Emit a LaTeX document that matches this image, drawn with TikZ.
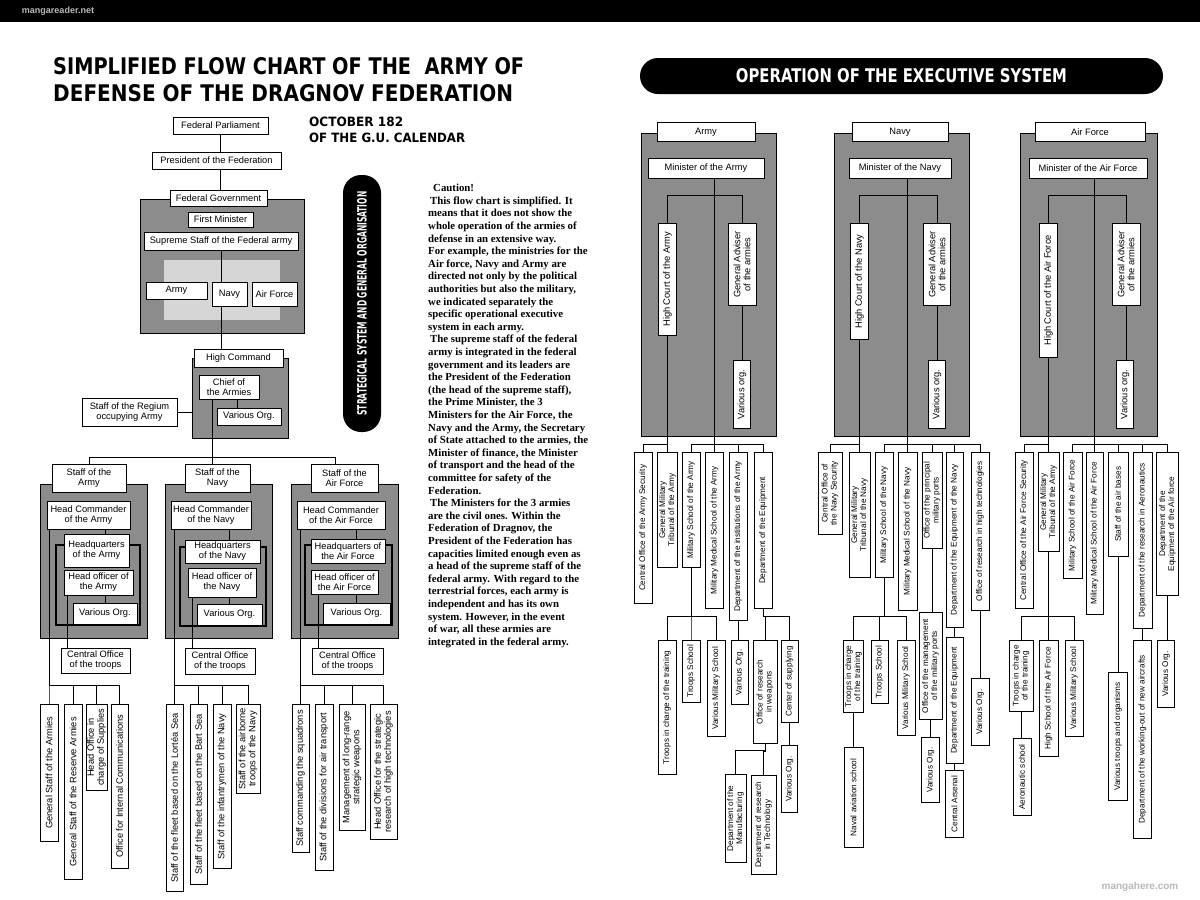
\documentclass[tikz,border=0pt]{standalone}
\usepackage{fontspec}
\newfontfamily\boxfont{Liberation Sans}
\newfontfamily\notefont{Liberation Serif}
\newfontfamily\titlefont{DejaVu Sans}
\newcommand\leftboxfont{\boxfont\fontsize{9.3}{10}\selectfont}
\newcommand\rightboxfont{\boxfont\fontsize{8.2}{8.9}\selectfont}
\newcommand\cautionfont{\notefont\bfseries\fontsize{10.8}{12.6}\selectfont}
\definecolor{panelgray}{gray}{0.55}
\definecolor{lightpanel}{gray}{0.84}
\pgfdeclarelayer{bg}
\pgfdeclarelayer{mid}
\pgfsetlayers{bg,mid,main}

\begin{document}
\begin{tikzpicture}[x=1pt, y=1pt,
    box/.style={draw, fill=white, line width=0.8pt, inner sep=1pt, align=center, font=\leftboxfont},
    vb/.style={box, rotate=90, anchor=east}, % senkrechte Kästen, oben verankert
    rbox/.style={box, font=\rightboxfont},
    rvb/.style={rbox, rotate=90, anchor=east},
    panel/.style={draw, line width=1.3pt, fill=panelgray, anchor=north west, inner sep=0pt},
    wire/.style={line width=1pt},
    outline/.style={line width=1.5pt}, % schwarzer Rahmen hinter den Kästen
    pill/.style={fill=black, rounded corners=18pt, inner sep=0pt, text=white}
]

\begin{pgfonlayer}{bg}
\fill[white] (0,0) rectangle (1200,-900);
\fill[black] (0,0) rectangle (1200,-22);
\node[panel, minimum width=164, minimum height=134] (fgPanel) at (140,-199) {};
\fill[lightpanel] (164,-260) rectangle (280,-320);
\node[panel, minimum width=96, minimum height=80] (hcPanel) at (192,-358) {};
\node[panel, minimum width=107, minimum height=154] (panelA) at (40,-484) {};
\node[panel, minimum width=107, minimum height=154] (panelN) at (165,-484) {};
\node[panel, minimum width=107, minimum height=154] (panelF) at (291,-484) {};
\node[panel, minimum width=135, minimum height=303] (panelArmy) at (641,-133) {};
\node[panel, minimum width=135, minimum height=303] (panelNavy) at (834,-133) {};
\node[panel, minimum width=137, minimum height=303] (panelAir) at (1020,-133) {};
\end{pgfonlayer}

% Titel
\node[anchor=west, inner sep=0pt] (titleA) at (53,-66) {\resizebox{471pt}{17pt}{\titlefont\bfseries SIMPLIFIED FLOW CHART OF THE\hspace{0.7em}ARMY OF}};
\node[anchor=west, inner sep=0pt] (titleB) at (53,-93) {\resizebox{460pt}{17pt}{\titlefont\bfseries DEFENSE OF THE DRAGNOV FEDERATION}};
\node[anchor=west, inner sep=0pt] (dateA) at (309,-122) {\resizebox{94pt}{9.5pt}{\titlefont\bfseries OCTOBER 182}};
\node[anchor=west, inner sep=0pt] (dateB) at (309,-138) {\resizebox{156pt}{9.5pt}{\titlefont\bfseries OF THE G.U. CALENDAR}};
\node[pill, rotate=90, minimum width=257, minimum height=38] (stratPill) at (362,-303.5) {\resizebox{224pt}{9.5pt}{\titlefont\bfseries STRATEGICAL SYSTEM AND GENERAL ORGANISATION}};
\node[pill, minimum width=523, minimum height=36] (opPill) at (901.5,-76) {\resizebox{331pt}{14pt}{\titlefont\bfseries OPERATION OF THE EXECUTIVE SYSTEM}};
\node[font=\boxfont\bfseries\fontsize{9}{10}\selectfont, text=gray!55, inner sep=0pt] (wmA) at (58,-11) {mangareader.net};
\node[font=\boxfont\bfseries\fontsize{10}{11}\selectfont, text=gray!55, inner sep=0pt] (wmB) at (1140,-887) {mangahere.com};

% oberer Teil links
\node[box, minimum width=95, minimum height=17] (parl) at (220.5,-125.5) {Federal Parliament};
\node[box, minimum width=129, minimum height=17] (pres) at (216.5,-160.5) {President of the Federation};
\node[box, minimum width=97, minimum height=16] (fedgov) at (218.5,-198) {Federal Government};
\node[box, minimum width=65, minimum height=15] (firstmin) at (220.5,-219.5) {First Minister};
\node[box, minimum width=154, minimum height=18] (supreme) at (221,-241) {Supreme Staff of the Federal army};
\node[box, minimum width=61, minimum height=17] (armyS) at (176.5,-290.5) {Army};
\node[box, minimum width=35, minimum height=24] (navyS) at (229.5,-294) {Navy};
\node[box, minimum width=45, minimum height=24] (afS) at (274.5,-294) {Air Force};
\node[box, minimum width=89, minimum height=18] (highcmd) at (238.5,-358) {High Command};
\node[box, minimum width=60, minimum height=24] (chief) at (229,-387) {Chief of\\the Armies};
\node[box, minimum width=64, minimum height=17] (variousHC) at (249,-416.5) {Various Org.};
\node[box, minimum width=95, minimum height=28] (regium) at (129.5,-412) {Staff of the Regium\\occupying Army};

\node[box, minimum width=74, minimum height=28] (sArmy) at (89,-478) {Staff of the\\Army};
\node[box, minimum width=65, minimum height=28] (sNavy) at (217.5,-478) {Staff of the\\Navy};
\node[box, minimum width=67, minimum height=28] (sAF) at (344.5,-478) {Staff of the\\Air Force};

\node[box, minimum width=83, minimum height=28] (cmdA) at (88.5,-515) {Head Commander\\of the Army};
\node[box, minimum width=80, minimum height=28] (cmdN) at (211,-515) {Head Commander\\of the Navy};
\node[box, minimum width=88, minimum height=28] (cmdF) at (341,-515) {Head Commander\\of the Air Force};
\node[box, minimum width=65, minimum height=33] (hqA) at (96.5,-550.5) {Headquarters\\of the Army};
\node[box, minimum width=75, minimum height=23] (hqN) at (222.5,-551.5) {Headquarters\\of the Navy};
\node[box, minimum width=74, minimum height=24] (hqF) at (348,-551) {Headquarters of\\the Air Force};
\node[box, minimum width=69, minimum height=25] (offA) at (98.5,-582.5) {Head officer of\\the Army};
\node[box, minimum width=68, minimum height=29] (offN) at (222,-582.5) {Head officer of\\the Navy};
\node[box, minimum width=67, minimum height=24] (offF) at (344.5,-582) {Head officer of\\the Air Force};
\node[box, minimum width=64, minimum height=21] (orgA) at (105,-613.5) {Various Org.};
\node[box, minimum width=65, minimum height=21] (orgN) at (229.5,-614.5) {Various Org.};
\node[box, minimum width=67, minimum height=21] (orgF) at (356.5,-613.5) {Various Org.};
\node[box, minimum width=69, minimum height=25] (troopsA) at (95.5,-660.5) {Central Office\\of the troops};
\node[box, minimum width=70, minimum height=26] (troopsN) at (220,-661) {Central Office\\of the troops};
\node[box, minimum width=71, minimum height=26] (troopsF) at (347.5,-661) {Central Office\\of the troops};

\node[vb, minimum width=137, minimum height=18] (subA1) at (49,-704) {General Staff of the Armies};
\node[vb, minimum width=175, minimum height=18] (subA2) at (73,-704) {General Staff of the Reserve Armies};
\node[vb, minimum width=86, minimum height=21] (subA3) at (96.5,-704) {Head Office in\\charge of Supplies};
\node[vb, minimum width=164, minimum height=17] (subA4) at (119.5,-704) {Office for Internal Communications};
\node[vb, minimum width=187, minimum height=17] (subN1) at (174.5,-704) {Staff of the fleet based on the Lortéa Sea};
\node[vb, minimum width=180, minimum height=17] (subN2) at (198.5,-704) {Staff of the fleet based on the Bart Sea};
\node[vb, minimum width=164, minimum height=18] (subN3) at (222,-704) {Staff of the infantrymen of the Navy};
\node[vb, minimum width=89, minimum height=24] (subN4) at (248,-704) {Staff of the airborne\\troops of the Navy};
\node[vb, minimum width=148, minimum height=17] (subF1) at (300.5,-704) {Staff commanding the squadrons};
\node[vb, minimum width=166, minimum height=18] (subF2) at (324,-704) {Staff of the divisions for air transport};
\node[vb, minimum width=126, minimum height=26] (subF3) at (352,-704) {Management of long-range\\strategic weapons};
\node[vb, minimum width=135, minimum height=27] (subF4) at (383.5,-704) {Head Office for the strategic\\research of high technologies};

\node[anchor=north west, align=left, inner sep=0pt, font=\cautionfont] (caution) at (428,-184) {%
\hspace*{5pt}Caution!\\
\hspace*{2pt}This flow chart is simplified. It\\
means that it does not show the\\
whole operation of the armies of\\
defense in an extensive way.\\
For example, the ministries for the\\
Air force, Navy and Army are\\
directed not only by the political\\
authorities but also the military,\\
we indicated separately the\\
specific operational executive\\
system in each army.\\
\hspace*{2pt}The supreme staff of the federal\\
army is integrated in the federal\\
government and its leaders are\\
the President of the Federation\\
(the head of the supreme staff),\\
the Prime Minister, the 3\\
Ministers for the Air Force, the\\
Navy and the Army, the Secretary\\
of State attached to the armies, the\\
Minister of finance, the Minister\\
of transport and the head of the\\
committee for safety of the\\
Federation.\\
\hspace*{2pt}The Ministers for the 3 armies\\
are the civil ones. Within the\\
Federation of Dragnov, the\\
President of the Federation has\\
capacities limited enough even as\\
a head of the supreme staff of the\\
federal army. With regard to the\\
terrestrial forces, each army is\\
independent and has its own\\
system. However, in the event\\
of war, all these armies are\\
integrated in the federal army.};

% rechte Seite, oben
\node[box, minimum width=98, minimum height=19] (hdrArmy) at (706,-132) {Army};
\node[box, minimum width=96, minimum height=19] (hdrNavy) at (900,-132) {Navy};
\node[box, minimum width=110, minimum height=19] (hdrAir) at (1090,-132) {Air Force};
\node[box, minimum width=116, minimum height=20] (minArmy) at (706,-168) {Minister of the Army};
\node[box, minimum width=102, minimum height=20] (minNavy) at (900,-168) {Minister of the Navy};
\node[box, minimum width=118, minimum height=20] (minAir) at (1088,-168) {Minister of the Air Force};

\node[vb, minimum width=112, minimum height=18] (courtArmy) at (667.5,-223) {High Court of the Army};
\node[vb, minimum width=82, minimum height=28] (advArmy) at (742,-223) {General Adviser\\of the armies};
\node[vb, minimum width=68, minimum height=17] (vorgArmy) at (742,-360) {Various org.};
\node[vb, minimum width=116, minimum height=18] (courtNavy) at (859.5,-223) {High Court of the Navy};
\node[vb, minimum width=82, minimum height=27] (advNavy) at (937,-223) {General Adviser\\of the armies};
\node[vb, minimum width=68, minimum height=17] (vorgNavy) at (937,-360) {Various org.};
\node[vb, minimum width=134, minimum height=18] (courtAir) at (1048.5,-223) {High Court of the Air Force};
\node[vb, minimum width=82, minimum height=28] (advAir) at (1126,-223) {General Adviser\\of the armies};
\node[vb, minimum width=68, minimum height=17] (vorgAir) at (1125,-360) {Various org.};

% rechte Seite, Armee
\node[rvb, minimum width=151, minimum height=18] (secArmy) at (643,-452) {Central Office of the Army Security};
\node[rvb, minimum width=115, minimum height=20] (tribArmy) at (667.5,-452) {General Military\\Tribunal of the Army};
\node[rvb, minimum width=115, minimum height=18] (schArmy) at (691,-452) {Military School of the Army};
\node[rvb, minimum width=156, minimum height=18] (medArmy) at (714.5,-452) {Military Medical School of the Army};
\node[rvb, minimum width=168, minimum height=18] (instArmy) at (738,-452) {Department of the institutions of the Army};
\node[rvb, minimum width=156, minimum height=18] (equipArmy) at (763,-452) {Department of the Equipment};
\node[rvb, minimum width=134, minimum height=18] (trainArmy) at (667,-640) {Troops in charge of the training};
\node[rvb, minimum width=62, minimum height=18] (tschArmy) at (691,-640) {Troops School};
\node[rvb, minimum width=96, minimum height=18] (vmsArmy) at (716,-640) {Various Military School};
\node[rvb, minimum width=64, minimum height=17] (orgArmy) at (739.5,-640) {Various Org.};
\node[rvb, minimum width=103, minimum height=24] (weapArmy) at (765,-640) {Office of research\\in weapons};
\node[rvb, minimum width=82, minimum height=17] (supplyArmy) at (789.5,-640) {Center of supplying};
\node[rvb, minimum width=88, minimum height=21] (manufArmy) at (735.5,-774) {Department of the\\Manufacturing};
\node[rvb, minimum width=99, minimum height=25] (techArmy) at (763.5,-775) {Department of research\\in Technology};
\node[rvb, minimum width=67, minimum height=16] (sorgArmy) at (789.5,-745) {Various Org.};

% rechte Seite, Marine
\node[rvb, minimum width=82, minimum height=24] (secNavy) at (830,-452) {Central Office of\\the Navy Security};
\node[rvb, minimum width=125, minimum height=21] (tribNavy) at (859.5,-452) {General Military\\Tribunal of the Navy};
\node[rvb, minimum width=125, minimum height=18] (schNavy) at (884,-452) {Military School of the Navy};
\node[rvb, minimum width=158, minimum height=19] (medNavy) at (907.5,-452) {Military Medical School of the Navy};
\node[rvb, minimum width=96, minimum height=20] (portsNavy) at (932,-452) {Office of the principal\\military ports};
\node[rvb, minimum width=175, minimum height=17] (equipNavy) at (954.5,-452) {Department of the Equipment of the Navy};
\node[rvb, minimum width=158, minimum height=18] (hitechNavy) at (980,-452) {Office of research in high technologies};
\node[rvb, minimum width=72, minimum height=20] (trainNavy) at (853.5,-640) {Troops in charge\\of the training};
\node[rvb, minimum width=63, minimum height=17] (tschNavy) at (879.5,-640) {Troops School};
\node[rvb, minimum width=95, minimum height=18] (vmsNavy) at (906,-640) {Various Military School};
\node[rvb, minimum width=100, minimum height=19] (avNavy) at (853.5,-747) {Naval aviation school};
\node[rvb, minimum width=107, minimum height=23] (mgmtNavy) at (930.5,-612) {Office of the management\\of the military ports};
\node[rvb, minimum width=65, minimum height=18] (orgNavy) at (930.5,-737) {Various Org.};
\node[rvb, minimum width=126, minimum height=17] (equip2Navy) at (954.5,-637) {Department of the Equipment};
\node[rvb, minimum width=67, minimum height=18] (arsNavy) at (954.5,-770) {Central Arsenal};
\node[rvb, minimum width=67, minimum height=18] (org2Navy) at (980,-678) {Various Org.};

% rechte Seite, Luftwaffe
\node[rvb, minimum width=156, minimum height=18] (secAir) at (1024,-452) {Central Office of the Air Force Security};
\node[rvb, minimum width=99, minimum height=21] (tribAir) at (1048.5,-452) {General Military\\Tribunal of the Army};
\node[rvb, minimum width=126, minimum height=19] (schAir) at (1072.5,-452) {Military School of the Air Force};
\node[rvb, minimum width=162, minimum height=17] (medAir) at (1094.5,-452) {Military Medical School of the Air Force};
\node[rvb, minimum width=104, minimum height=20] (basesAir) at (1118,-452) {Staff of the air bases};
\node[rvb, minimum width=176, minimum height=19] (aeroAir) at (1142.5,-452) {Department of the research in Aeronautics};
\node[rvb, minimum width=143, minimum height=22] (equipAir) at (1167.5,-452) {Department of the\\Equipment of the Air force};
\node[rvb, minimum width=71, minimum height=24] (trainAir) at (1021,-640) {Troops in charge\\of the training};
\node[rvb, minimum width=116, minimum height=19] (hschAir) at (1048.5,-640) {High School of the Air Force};
\node[rvb, minimum width=96, minimum height=18] (vmsAir) at (1074,-640) {Various Military School};
\node[rvb, minimum width=77, minimum height=18] (aeroschAir) at (1022,-738) {Aeronautic school};
\node[rvb, minimum width=128, minimum height=19] (troopsAir) at (1118,-672) {Various troops and organisms};
\node[rvb, minimum width=198, minimum height=18] (newAir) at (1142.5,-640) {Department of the working-out of new aircrafts};
\node[rvb, minimum width=67, minimum height=17] (orgAir) at (1166,-640) {Various Org.};

\begin{pgfonlayer}{mid}
% linke Seite
\draw[wire] (parl.south) -- (parl.south |- pres.north);
\draw[wire] (parl.south |- pres.south) -- (parl.south |- fedgov.north);
\draw[wire] (supreme.south) -- (supreme.south |- highcmd.north);
\coordinate (trunk) at (212,-457);
\coordinate (barR) at (335,-457);
\draw[wire] (trunk |- chief.south) -- (trunk |- sNavy.north);
\draw[wire] (sArmy.north) |- (barR) -- (barR |- sAF.north);
\draw[wire] ([xshift=8pt]chief.south) -- ([xshift=8pt]chief.south |- variousHC.north);
\draw[wire] (regium.east) -- (regium.east -| hcPanel.west);
\draw[outline] (56,-545) rectangle (140,-625);
\draw[outline] (180,-547) rectangle (266,-626);
\draw[outline] (305,-545) rectangle (392,-625);
\foreach \s in {A,N,F}{
  \draw[wire] (hq\s.north -| org\s.north) -- (cmd\s.south -| org\s.north);
  \draw[wire] (org\s.north) -- (org\s.north |- off\s.south);
  \foreach \c in {1,...,4}
    \draw[wire] (sub\s\c.east) -- ++(0,19) -| (cmd\s.south -| sub\s1.east);
}
\draw[wire] ([xshift=4pt]offA.south west) -- ([xshift=4pt]offA.south west |- troopsA.north);
\draw[wire] ([xshift=5pt]offN.south west) -- ([xshift=5pt]offN.south west |- troopsN.north);
\draw[wire] ([xshift=8pt]offF.south west) -- ([xshift=8pt]offF.south west |- troopsF.north);

% rechte Seite
\foreach \s in {Army,Navy,Air}{
  \draw[wire] (court\s.east) -- ++(0,28) -| (adv\s.east);
  \draw[wire] (adv\s.west) -- (adv\s.west |- vorg\s.east);
  \foreach \c in {sec,trib}
    \draw[wire] (\c\s.east) -- ++(0,8) -| (court\s.west);
}
\foreach \c in {schArmy,medArmy,instArmy,equipArmy}
  \draw[wire] (\c.east) -- ++(0,8) -| (minArmy.south -| medArmy.east);
\foreach \c in {schNavy,medNavy,portsNavy,equipNavy,hitechNavy}
  \draw[wire] (\c.east) -- ++(0,8) -| (minNavy.south -| medNavy.east);
\foreach \c in {schAir,medAir,basesAir,aeroAir,equipAir}
  \draw[wire] (\c.east) -- ++(0,8) -| (minAir.south -| medAir.east);

\foreach \c in {trainArmy,tschArmy,vmsArmy}
  \draw[wire] (\c.east) -- ++(0,24) -| (schArmy.west);
\draw[wire] (instArmy.west) -- (instArmy.west |- orgArmy.east);
\foreach \c in {weapArmy,supplyArmy}
  \draw[wire] (\c.east) -- ++(0,24) -| (equipArmy.west);
\foreach \c in {manufArmy,techArmy}
  \draw[wire] (\c.east) -- ++(0,24) -| (weapArmy.west);
\draw[wire] (supplyArmy.west) -- (supplyArmy.west |- sorgArmy.east);

\foreach \c in {trainNavy,tschNavy,vmsNavy}
  \draw[wire] (\c.east) -- ++(0,24) -| (schNavy.west);
\draw[wire] (trainNavy.west) -- (trainNavy.west |- avNavy.east);
\draw[wire] (portsNavy.west) -- (portsNavy.west |- mgmtNavy.east);
\draw[wire] (mgmtNavy.west) -- (mgmtNavy.west |- orgNavy.east);
\draw[wire] (equipNavy.west) -- (equipNavy.west |- equip2Navy.east);
\draw[wire] (equip2Navy.west) -- (equip2Navy.west |- arsNavy.east);
\draw[wire] (hitechNavy.west) -- (hitechNavy.west |- org2Navy.east);

\foreach \c in {trainAir,hschAir,vmsAir}
  \draw[wire] (\c.east) -- ++(0,24) -| (tribAir.west);
\draw[wire] (trainAir.west) -- (trainAir.west |- aeroschAir.east);
\draw[wire] (basesAir.west) -- (basesAir.west |- troopsAir.east);
\draw[wire] (aeroAir.west) -- (aeroAir.west |- newAir.east);
\draw[wire] (equipAir.west) -- (equipAir.west |- orgAir.east);
\end{pgfonlayer}

\end{tikzpicture}
\end{document}
